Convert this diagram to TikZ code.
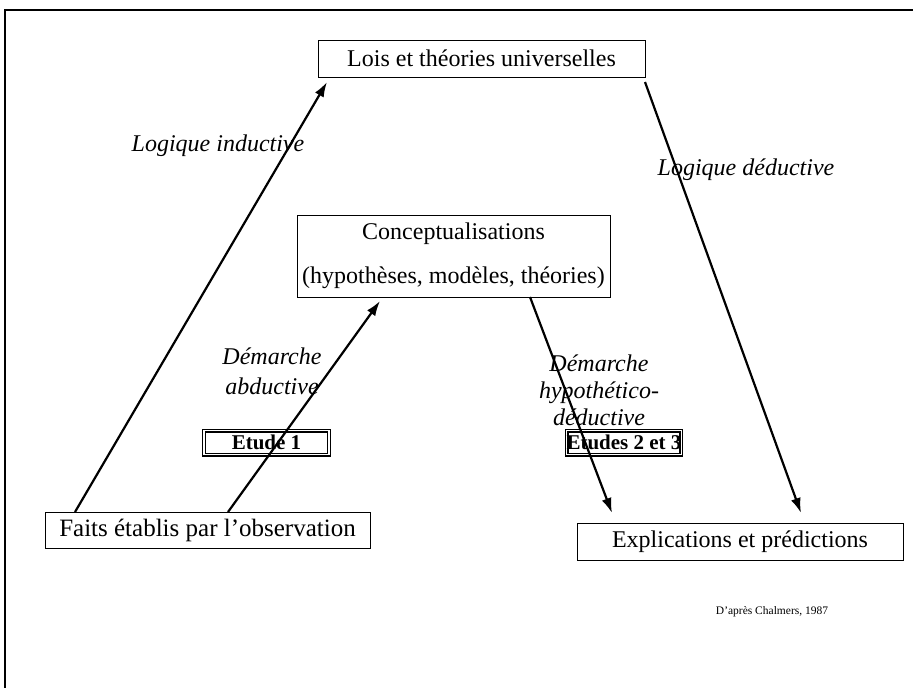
\documentclass[tikz,border=0pt]{standalone}
\usepackage{fontspec}
\setmainfont{Liberation Serif}
\usetikzlibrary{arrows.meta}
\begin{document}
\begin{tikzpicture}[x=1pt,y=-1pt,
  box/.style={draw,line width=1pt,inner sep=0pt,font=\fontsize{24}{26}\selectfont},
  etude/.style={draw,double,line width=1.2pt,double distance=1.6pt,inner sep=0pt,font=\bfseries\fontsize{21}{23}\selectfont},
  lbl/.style={font=\itshape\fontsize{24}{30}\selectfont,inner sep=0pt,align=center},
  arr/.style={line width=2.2pt,-{Latex[length=15pt,width=10pt]}}]
\useasboundingbox (0,0) rectangle (913,688);
% outer frame
\draw[line width=1.6pt] (5,688) -- (5,10) -- (913,10);
% boxes
\node[box,minimum width=327pt,minimum height=37pt] (lois) at (481.5,58.5) {Lois et théories universelles};
\node[box,minimum width=313pt,minimum height=82pt,align=center,font=\fontsize{24}{44}\selectfont] (concept) at (453.5,256)
  {Conceptualisations\\(hypothèses, modèles, théories)};
\node[box,minimum width=325pt,minimum height=36pt,font=\fontsize{25}{27}\selectfont] (faits) at (207.5,530) {Faits établis par l’observation};
\node[box,minimum width=326pt,minimum height=37pt] (expl) at (740,541.5) {Explications et prédictions};
\node[etude,minimum width=125pt,minimum height=24pt] (e1) at (266.5,442.5) {Etude 1};
\node[etude,minimum width=114pt,minimum height=24pt] (e23) at (624,442.5) {Etudes 2 et 3};
% connector end points
\coordinate (a1s) at (75,512);
\coordinate (a1e) at (327,82);
\coordinate (a2s) at (228,512);
\coordinate (a2e) at (380,301);
\coordinate (a3s) at (530,297);
\coordinate (a3e) at (612,513);
\coordinate (a4s) at (645,82);
\coordinate (a4e) at (801,513);
\draw[arr] (a1s) -- (a1e);
\draw[arr] (a2s) -- (a2e);
\draw[arr] (a3s) -- (a3e);
\draw[arr] (a4s) -- (a4e);
% labels
\node[lbl] (li) at (218,146) {Logique inductive};
\node[lbl] (ld) at (746,170) {Logique déductive};
\node[lbl] (da) at (272,371) {Démarche\\abductive};
\node[lbl,font=\itshape\fontsize{24}{27}\selectfont] (dh) at (599,390) {Démarche\\hypothético-\\déductive};
\node[font=\fontsize{11.5}{13}\selectfont,inner sep=0pt] (src) at (772,612) {D’après Chalmers, 1987};
\end{tikzpicture}
\end{document}
